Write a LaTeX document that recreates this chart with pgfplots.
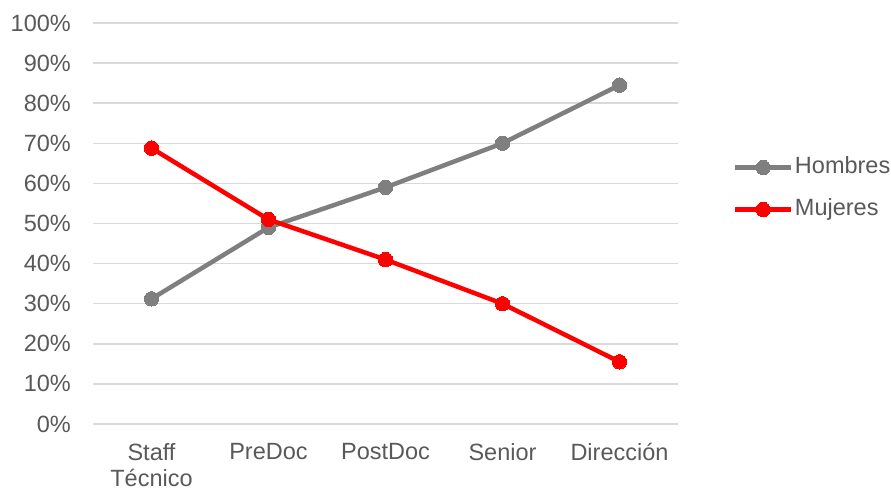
\documentclass[border=0pt]{standalone}
\usepackage{fontspec}
\setmainfont{Liberation Sans}
\usepackage{pgfplots}
\pgfplotsset{compat=1.18}
\definecolor{txtgray}{HTML}{595959}
\definecolor{gridgray}{HTML}{D9D9D9}
\definecolor{hgray}{HTML}{7F7F7F}
\definecolor{mred}{HTML}{FF0000}
\begin{document}
\begin{tikzpicture}
\begin{axis}[
  at={(0,0)}, anchor=south west,
  scale only axis,
  width=585bp, height=401bp,
  xmin=-0.5, xmax=4.5,
  ymin=0, ymax=100,
  xtick={0,1,2,3,4},
  xticklabels={Staff\\Técnico, PreDoc, PostDoc, Senior, Dirección},
  ytick={0,10,...,100},
  yticklabel={\pgfmathprintnumber{\tick}\%},
  /pgf/number format/assume math mode=true,
  axis line style={draw=none},
  major tick length=0pt,
  tick style={draw=none},
  ymajorgrids,
  grid style={color=gridgray, line width=1.4bp},
  ticklabel style={font=\fontsize{23.5bp}{26bp}\selectfont, text=txtgray},
  xticklabel style={align=center, inner sep=0pt, anchor=north, yshift=-19bp},
  yticklabel style={inner sep=0pt, anchor=east, xshift=-22bp},
  clip=false,
  legend style={draw=none, fill=none, at={(1.094,0.587)}, anchor=west,
    font=\fontsize{23.5bp}{26bp}\selectfont, text=txtgray,
    nodes={inner sep=1.5bp, text height=17bp, text depth=5bp},
    row sep=17bp, inner sep=0pt, outer sep=0pt},
  legend cell align=left,
  legend image code/.code={\draw[#1, mark repeat=2, mark phase=2] plot coordinates {(0bp,0bp) (28bp,0bp) (56bp,0bp)};},
]
\addplot[color=hgray, line width=4.5bp, mark=*, mark size=7.2bp, mark options={solid, fill=hgray, draw=hgray, line width=0pt}]
  coordinates {(0,31.2) (1,49) (2,59) (3,70) (4,84.5)};
\addlegendentry{Hombres}
\addplot[color=mred, line width=4.5bp, mark=*, mark size=7.2bp, mark options={solid, fill=mred, draw=mred, line width=0pt}]
  coordinates {(0,68.8) (1,51) (2,41) (3,30) (4,15.5)};
\addlegendentry{Mujeres}
\end{axis}
\pgfresetboundingbox
\path (-93bp,-65bp) rectangle (798bp,424bp);
\end{tikzpicture}
\end{document}
